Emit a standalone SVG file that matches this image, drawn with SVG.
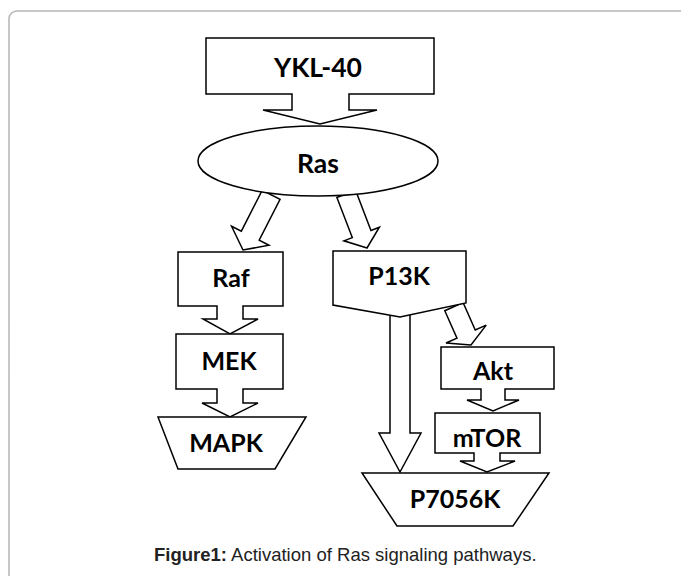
<svg xmlns="http://www.w3.org/2000/svg" width="681" height="576" viewBox="0 0 681 576">
<style>
.s{fill:#fff;stroke:#000;stroke-width:1.5;stroke-linejoin:miter}
.t{font-family:Lato,"Open Sans",sans-serif;font-weight:bold;font-size:25px;fill:#000;text-anchor:middle}
.big{font-size:26.5px}
.cap{font-family:"Liberation Sans",Arial,sans-serif;font-size:18.5px;fill:#222}
</style>
<rect x="9" y="11" width="720" height="620" rx="8" fill="#fff" stroke="#b5b5b5" stroke-width="1.5"/>
<g id="connectors">
<path class="s" d="M0,0 L-21,-16 L-10,-16 L-10,-62 L10,-62 L10,-16 L21,-16 Z" transform="translate(243,250) rotate(27)"/>
<path class="s" d="M0,0 L-19,-15 L-10,-15 L-10,-58 L10,-58 L10,-15 L19,-15 Z" transform="translate(367,248) rotate(-21)"/>
<path class="s" d="M0,0 L-22,-12 L-10,-12 L-10,-42 L10,-42 L10,-12 L22,-12 Z" transform="translate(471,345) rotate(-24)"/>
<path class="s" d="M390,314 V433 H379 L400,472 L421,433 H410 V314 Z"/>
</g>
<g id="ykl40">
<path class="s" d="M206,38 H434 V94 H349 V110 H377 L320,124 L263,110 H292 V94 H206 Z"/>
<text class="t big" x="318" y="77">YKL-40</text>
</g>
<g id="ras">
<ellipse class="s" cx="318" cy="161" rx="120" ry="35"/>
<text class="t big" x="318" y="173">Ras</text>
</g>
<g id="raf">
<path class="s" d="M178,252 H283 V306 H243 V319 H258 L230,334 L203,319 H217 V306 H178 Z"/>
<text class="t" x="231" y="287">Raf</text>
</g>
<g id="mek">
<path class="s" d="M176,334 H283 V389 H243 V403 H258 L230,417 L202,403 H217 V389 H176 Z"/>
<text class="t" x="229" y="370">MEK</text>
</g>
<g id="mapk">
<path class="s" d="M158,417 H306 L275,469 H178 Z"/>
<text class="t" x="226" y="452">MAPK</text>
</g>
<g id="p13k">
<path class="s" d="M333,251 H466 V303 L400,317 L333,305 Z"/>
<text class="t" x="399" y="285">P13K</text>
</g>
<g id="akt">
<path class="s" d="M441,347 H554 V389 H505 V400 H519 L493,411 L467,400 H481 V389 H441 Z"/>
<text class="t" x="493" y="380">Akt</text>
</g>
<g id="mtor">
<path class="s" d="M435,413 H540 V453 H500 V461 H515 L487,472 L460,461 H474 V453 H435 Z"/>
<text class="t" x="487" y="447">mTOR</text>
</g>
<g id="p7056k">
<path class="s" d="M362,473 H549 L513,526 H397 Z"/>
<text class="t" x="455" y="508">P7056K</text>
</g>
<text class="cap" x="154" y="561"><tspan font-weight="bold">Figure1:</tspan> Activation of Ras signaling pathways.</text>
</svg>
